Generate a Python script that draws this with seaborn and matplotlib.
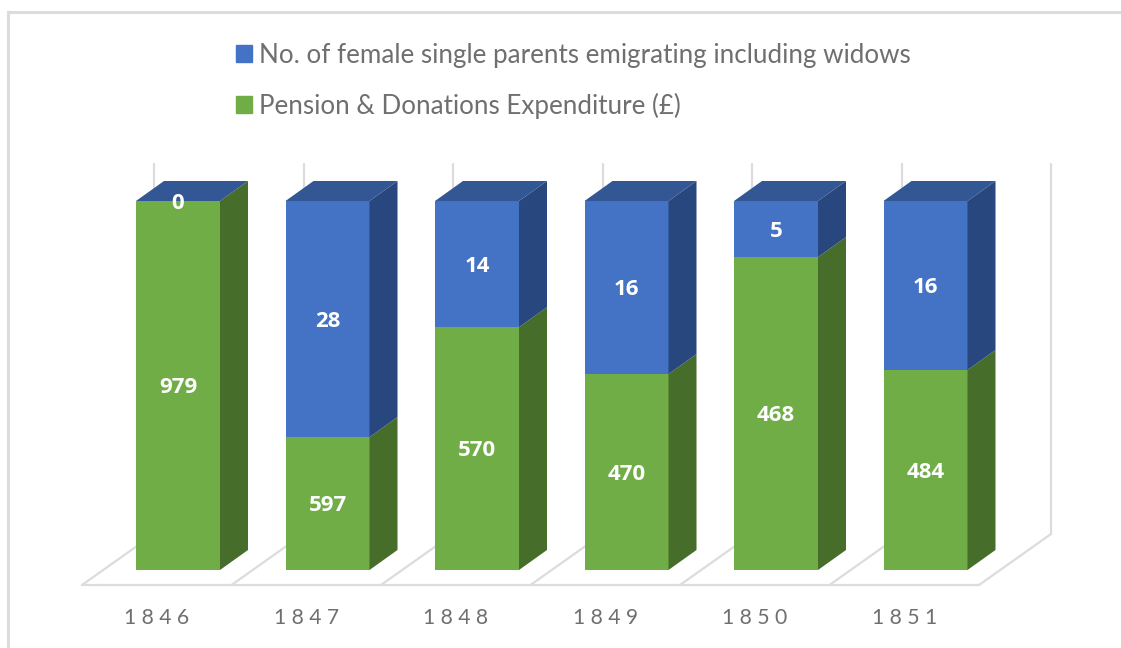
import matplotlib
matplotlib.use('Agg')
import matplotlib.pyplot as plt
from matplotlib.patches import Polygon, Patch
import numpy as np
import pandas as pd
import seaborn as sns

years = ['1846', '1847', '1848', '1849', '1850', '1851']
pension_labels = [979, 597, 570, 470, 468, 484]
parents_labels = [0, 28, 14, 16, 5, 16]
# drawn height of the green part (% of the column)
pension_share = [100, 36, 65.8, 53.1, 84.8, 54.2]
parents_share = [0, 64, 34.2, 46.9, 15.2, 45.8]

sns.set_theme(style='white')
plt.rcParams['font.family'] = ['Lato', 'DejaVu Sans']

GREEN, GREEN_SIDE = '#70ad47', '#476d2b'
BLUE, BLUE_SIDE, BLUE_TOP = '#4472c4', '#28477e', '#335694'
GRID = '#dcdcdc'
TEXT = '#6f6f6f'

W, H = 1121, 648
fig = plt.figure(figsize=(W / 100, H / 100), dpi=100)
ax = fig.add_axes([7.5 / W, 0, 1 - 7.5 / W, 1 - 11.5 / H])

df = pd.DataFrame({'year': years, 'green': pension_share, 'blue': parents_share})
df['total'] = df['green'] + df['blue']

bar_w = 84 / 149.5
sns.barplot(data=df, x='year', y='total', color=BLUE, saturation=1, width=bar_w, ax=ax, zorder=3, linewidth=0)
sns.barplot(data=df, x='year', y='green', color=GREEN, saturation=1, width=bar_w, ax=ax, zorder=3, linewidth=0)

ax.set_xlim((7.5 - 178) / 149.5, (W - 178) / 149.5)
ax.set_ylim((570 - 648) / 3.69, (570 - 11.5) / 3.69)

# 3d depth of bars and floor, in data units
dx, dy = 28 / 149.5, 20 / 3.69
floor_dx, floor_dy = 72 / 149.5, 51 / 3.69
floor_y = -15 / 3.69
wall_top = 110
left_edge = (82 - 178) / 149.5

n = len(years)
for i in range(n + 1):
    x0 = left_edge + i
    ax.plot([x0, x0 + floor_dx], [floor_y, floor_y + floor_dy], color=GRID, lw=1.6, zorder=1)
    ax.plot([x0 + floor_dx, x0 + floor_dx], [floor_y + floor_dy, wall_top], color=GRID, lw=1.6, zorder=1)
ax.plot([left_edge, left_edge + n], [floor_y, floor_y], color=GRID, lw=1.6, zorder=1)

for i, (g, t) in enumerate(zip(df['green'], df['total'])):
    r = i + bar_w / 2
    l = i - bar_w / 2
    ax.add_patch(Polygon([(r, 0), (r + dx, dy), (r + dx, g + dy), (r, g)], color=GREEN_SIDE, lw=0, zorder=3))
    if t > g:
        ax.add_patch(Polygon([(r, g), (r + dx, g + dy), (r + dx, t + dy), (r, t)], color=BLUE_SIDE, lw=0, zorder=3))
    ax.add_patch(Polygon([(l, t), (l + dx, t + dy), (r + dx, t + dy), (r, t)], color=BLUE_TOP, lw=0, zorder=3))

    ax.annotate(str(pension_labels[i]), (i, g / 2), xytext=(0, -1.6), textcoords='offset points', color='white',
                fontsize=16, fontweight='bold', family='Open Sans', ha='center', va='center', zorder=5)
    ax.annotate(str(parents_labels[i]), (i, g + (t - g) / 2), xytext=(0, -1.6), textcoords='offset points', color='white',
                fontsize=16, fontweight='bold', family='Open Sans', ha='center', va='center', zorder=5)

ax.set_xlabel('')
ax.set_ylabel('')
ax.set_yticks([])
# the year labels sit under the middle of each floor section, not under the bar
ax.set_xticks([left_edge + i + 0.5 for i in range(n)])
ax.set_xticklabels([' '.join(y) for y in years], color=TEXT, fontsize=15.2)
ax.tick_params(axis='x', length=0, pad=-28.5)

for side in ['right', 'bottom']:
    ax.spines[side].set_visible(False)
for side in ['left', 'top']:
    ax.spines[side].set_color(GRID)
    ax.spines[side].set_linewidth(2.2)

handles = [Patch(color=BLUE, label='No. of female single parents emigrating including widows'),
           Patch(color=GREEN, label='Pension & Donations Expenditure (£)')]
leg = ax.legend(handles=handles, loc='upper left', bbox_to_anchor=(236 / W, 1 - 43 / H),
                bbox_transform=fig.transFigure, frameon=False, fontsize=18.7,
                handlelength=0.62, handleheight=0.62, handletextpad=0.28, labelspacing=0.96,
                borderpad=0, borderaxespad=0)
for t in leg.get_texts():
    t.set_color(TEXT)

fig.savefig('out.png', dpi=100)
